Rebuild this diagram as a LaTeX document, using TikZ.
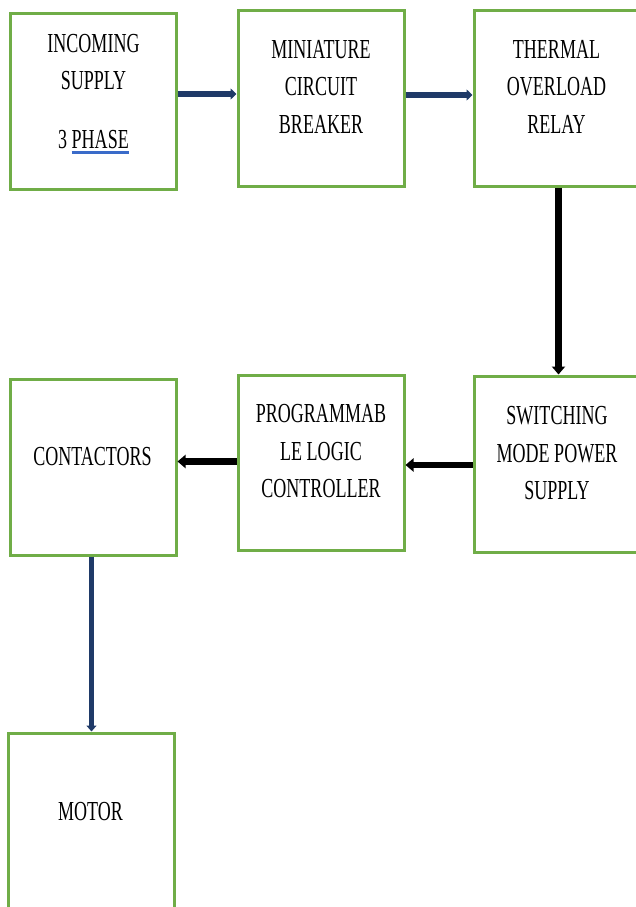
\documentclass[tikz,border=0pt]{standalone}
\usepackage{fontspec}
\setmainfont[FakeStretch=0.655]{Liberation Serif}
\usetikzlibrary{arrows.meta}
\definecolor{boxgreen}{HTML}{70AD47}
\definecolor{navy}{HTML}{1F3A68}
\definecolor{ulblue}{HTML}{3A6BC9}
\newsavebox\myulbox
\newcommand\spellul[1]{\sbox\myulbox{#1}\smash{\rlap{\raisebox{-5.2pt}{\color{ulblue}\rule{\wd\myulbox}{2.2pt}}}}\usebox\myulbox}
\tikzset{
  box/.style={draw=boxgreen, line width=3pt, minimum width=166pt, minimum height=175pt, inner sep=0pt},
  lbl/.style={align=center, inner sep=0pt, font=\fontsize{27.5}{37.5}\selectfont},
  navyarrow/.style={draw=navy, line width=5.5pt, -{Triangle[width=11pt,length=6pt]}},
  navyarrowthin/.style={draw=navy, line width=4.5pt, -{Triangle[width=10pt,length=6pt]}},
  blackarrow/.style={draw=black, line width=6.5pt, -{Triangle[width=13pt,length=8pt]}}
}
\begin{document}
\begin{tikzpicture}[x=1pt,y=-1pt]
\clip (0,0) rectangle (636,907);
\useasboundingbox (0,0) rectangle (636,907);
% boxes
\node[box] (b1) at (93,101.5) {};
\node[box] (b2) at (321,98.5) {};
\node[box] (b3) at (557,98.5) {};
\node[box, minimum height=176pt] (b4) at (557,464) {};
\node[box] (b5) at (321,462.5) {};
\node[box, minimum height=176pt] (b6) at (93,467) {};
\node[box, minimum height=176pt] (b7) at (91,821) {};
% labels
\node[lbl] (t1) at (93.5,91.5) {INCOMING\\SUPPLY\\[21pt]3 \spellul{PHASE}};
\node[lbl] (t2) at (321,86.5) {MINIATURE\\CIRCUIT\\BREAKER};
\node[lbl] (t3) at (556.5,86.5) {THERMAL\\OVERLOAD\\RELAY};
\node[lbl] (t4) at (557,453.5) {SWITCHING\\MODE POWER\\SUPPLY};
\node[lbl] (t5) at (321,451.5) {PROGRAMMAB\\LE LOGIC\\CONTROLLER};
\node[lbl] (t6) at (92.5,457) {CONTACTORS};
\node[lbl] (t7) at (90.5,812) {MOTOR};
% connectors
\draw[navyarrow] (b1.east |- 0,94) -- (b2.west |- 0,94);
\draw[navyarrow] (b2.east |- 0,95) -- (b3.west |- 0,95);
\draw[blackarrow] (b3.south -| 558.5,0) -- (b4.north -| 558.5,0);
\draw[blackarrow] (b4.west |- 0,465) -- (b5.east |- 0,465);
\draw[blackarrow] (b5.west |- 0,461.5) -- (b6.east |- 0,461.5);
\draw[navyarrowthin] (b6.south -| 91.5,0) -- (b7.north -| 91.5,0);
\end{tikzpicture}
\end{document}
